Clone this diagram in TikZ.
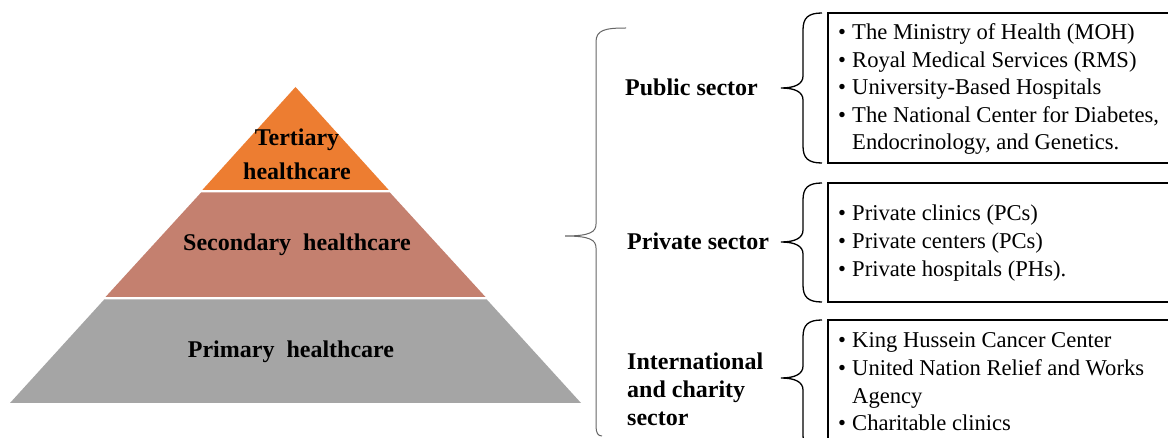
\documentclass[tikz,border=0pt]{standalone}
\usepackage{fontspec}
\setmainfont{Liberation Serif}
\begin{document}
\begin{tikzpicture}[x=1pt,y=-1pt,
  pyrtext/.style={font=\fontsize{24}{28}\selectfont\bfseries, anchor=base, inner sep=0pt},
  sectext/.style={font=\fontsize{24}{28}\selectfont\bfseries, anchor=base west, inner sep=0pt},
  itemtext/.style={font=\fontsize{22.6}{27}\selectfont, anchor=base west, inner sep=0pt},
  bul/.style={font=\fontsize{22.6}{27}\selectfont, anchor=base, inner sep=0pt},
  listbox/.style={draw=black, line width=2.6pt},
  bigbrace/.style={draw=black!60, line width=1pt},
  smallbrace/.style={draw=black, line width=1.3pt}]
\useasboundingbox (0,0) rectangle (1168,438);
\fill[white] (0,0) rectangle (1168,438);
% pyramid layers
\definecolor{tert}{HTML}{ED7D31}
\definecolor{secd}{HTML}{C4806F}
\definecolor{prim}{HTML}{A5A5A5}
\fill[tert] (295.5,87) -- (388.7,190) -- (202.3,190) -- cycle;
\fill[secd] (389.9,192.5) -- (485.5,297) -- (105.5,297) -- (201.1,192.5) -- cycle;
\fill[prim] (486.8,299.5) -- (581,403) -- (10,403) -- (104.2,299.5) -- cycle;
\node[pyrtext] (t1) at (297,146) {Tertiary};
\node[pyrtext] (t2) at (297,180) {healthcare};
\node[pyrtext] (s1) at (297,251) {Secondary\ \ healthcare};
\node[pyrtext] (p1) at (291,358) {Primary\ \ healthcare};
% big brace
\coordinate (bbtop) at (626,28);
\coordinate (bbtip) at (565,236);
\coordinate (bbbot) at (602,436);
\draw[bigbrace] (bbtop) .. controls (605,28) and (596,30) .. (596,42) -- (596,224)
  .. controls (596,232) and (590,236) .. (bbtip)
  .. controls (590,236) and (596,240) .. (596,248) -- (596,426)
  .. controls (596,433) and (598,436) .. (bbbot);
% sector labels
\node[sectext] (pub) at (625,96) {Public sector};
\node[sectext] (pri) at (627,250) {Private sector};
\node[sectext] (int1) at (627,370) {International};
\node[sectext] (int2) at (627,398) {and charity};
\node[sectext] (int3) at (627,425) {sector};
% small braces
\foreach \t/\b/\m in {13/163/88, 183/302/242, 320/452/378}{
  \draw[smallbrace] (822,\t) .. controls (808,\t) and (803,\t+5) .. (803,\t+17) -- (803,\m-12)
    .. controls (803,\m-4) and (795,\m) .. (781,\m)
    .. controls (795,\m) and (803,\m+4) .. (803,\m+12) -- (803,\b-17)
    .. controls (803,\b-5) and (808,\b) .. (822,\b);
}
% boxes
\draw[listbox] (828,13) rectangle (1180,163);
\draw[listbox] (828,183) rectangle (1180,302);
\draw[listbox] (828,320) rectangle (1180,460);
% public items
\foreach \y/\txt in {40/{The Ministry of Health (MOH)}, 67.5/{Royal Medical Services (RMS)}, 95/{University-Based Hospitals}, 122.5/{The National Center for Diabetes,}}{
  \node[bul] at (842,\y) {•};
  \node[itemtext] at (852,\y) {\txt};
}
\node[itemtext] (pub5) at (852,150) {Endocrinology, and Genetics.};
% private items
\foreach \y/\txt in {221/{Private clinics (PCs)}, 249/{Private centers (PCs)}, 277/{Private hospitals (PHs).}}{
  \node[bul] at (842,\y) {•};
  \node[itemtext] at (852,\y) {\txt};
}
% international items
\foreach \y/\txt in {348/{King Hussein Cancer Center}, 376/{United Nation Relief and Works}, 430/{Charitable clinics}}{
  \node[bul] at (842,\y) {•};
  \node[itemtext] at (852,\y) {\txt};
}
\node[itemtext] (int5) at (852,403) {Agency};
\end{tikzpicture}
\end{document}
